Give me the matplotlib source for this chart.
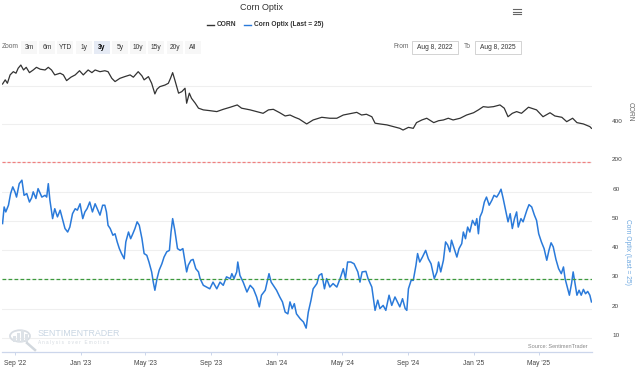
import numpy as np
import pandas as pd
import matplotlib
matplotlib.use('Agg')
import matplotlib.pyplot as plt
from matplotlib.patches import Rectangle, Circle
from matplotlib.lines import Line2D
from matplotlib.transforms import ScaledTranslation

plt.rcParams['font.family'] = ['Liberation Sans', 'DejaVu Sans']

start_date = '2022-08-08'
end_date = '2025-08-08'

# CORN (days after start_date)
corn_days = [1, 6, 10, 15, 21, 26, 30, 35, 40, 45,
             51, 58, 64, 71, 80, 86, 92, 98, 108, 114,
             120, 128, 136, 144, 151, 160, 167, 173, 182, 191,
             197, 204, 210, 219, 228, 238, 244, 253, 260, 264,
             272, 278, 284, 288, 293, 303, 309, 313, 317, 321,
             328, 334, 340, 343, 348, 352, 359, 365, 374, 386,
             399, 411, 424, 437, 445, 461, 473, 485, 495, 504,
             516, 526, 535, 544, 552,
             566, 578, 594, 609, 622, 634, 650, 659, 668, 677,
             687, 693, 702, 715, 727, 739, 745, 755, 764, 770,
             780, 789, 802, 811, 820, 829, 838, 851, 863, 876,
             885, 894, 903, 913, 925, 933, 940, 948, 956, 965,
             978, 993, 1005, 1018, 1027, 1040, 1049, 1060, 1068, 1080,
             1092, 1095]
corn_values = [610, 632, 614, 658, 675, 667, 693, 710, 684, 698,
               670, 684, 698, 688, 684, 698, 684, 658, 667, 658,
               628, 646, 658, 680, 658, 684, 670, 684, 675, 680,
               675, 640, 623, 640, 649, 658, 646, 675, 653, 632,
               649, 614, 558, 583, 596, 605, 614, 640, 670, 632,
               562, 570, 588, 509, 562, 535, 509, 483, 474, 470,
               465, 477, 488, 500, 483, 474, 465, 456, 474, 477,
               459, 442, 447, 435, 426,
               400, 421, 435, 430, 430, 447, 456, 461, 447, 451,
               438, 404, 400, 395, 386, 377, 368, 382, 377, 407,
               421, 430, 407, 417, 421, 430, 421, 430, 447, 459,
               474, 491, 488, 491, 500, 483, 438, 456, 465, 456,
               488, 474, 438, 459, 442, 435, 412, 430, 407, 400,
               386, 377]

# Corn Optix
optix_days = [1, 4, 7, 12, 16, 20, 24, 27, 32, 37,
              41, 46, 51, 55, 58, 63, 67, 74, 80, 83,
              86, 89, 94, 98, 103, 108, 113, 117, 122, 126,
              131, 136, 140, 145, 150, 154, 158, 163, 168, 173,
              177, 182, 187, 191, 194, 197, 201, 206, 210, 214,
              218, 222, 227, 230, 235, 239, 243, 247, 251, 255,
              260, 264, 269, 273, 278, 281, 284, 288, 292, 297,
              301, 306, 311, 314, 317, 321, 326, 331, 336, 340,
              343, 346, 351, 355, 360, 365, 368,
              374, 380, 386, 392, 399, 405, 411, 417, 424, 427,
              431, 436, 438, 442, 448, 455, 461, 467, 473, 478,
              482, 489, 496, 500, 504, 510, 516, 521, 526, 531,
              535, 539, 543, 547, 554, 560, 565, 569, 574, 578,
              585, 589, 594, 599, 603, 609, 615, 622, 628, 634,
              638, 642, 648, 654, 661, 665, 669, 676, 680, 687,
              693, 698, 702, 708, 713, 719, 724, 730, 736,
              739, 744, 749, 752, 755, 760, 764, 769, 772, 776,
              781, 787, 792, 797, 803, 808, 811, 815, 820, 824,
              828, 832, 835, 840, 845, 849, 854, 857, 861, 865,
              869, 874, 879, 882, 885, 888, 892, 896, 900, 905,
              910, 914, 919, 923, 927, 931, 935, 940, 944, 948,
              952, 956, 959, 964, 968, 975, 979, 984, 989, 993,
              997, 1002, 1007, 1012, 1016, 1020, 1024, 1029, 1034, 1039,
              1043, 1046, 1051, 1054, 1058, 1061, 1064, 1068, 1072, 1076,
              1080, 1084, 1088, 1092, 1095]
optix_values = [49.2, 54.9, 53.2, 55.5, 59.5, 61.8, 60.1, 58.3, 62.9, 64.1,
                58.9, 59.5, 56.6, 58, 60.1, 57.8, 61.2, 58.3, 58.9, 58.3,
                62.9, 57.2, 50.9, 54.3, 51.5, 53.8, 50.3, 47.5, 46.3, 48,
                52.6, 54.3, 53.8, 56, 50.9, 53.2, 54.3, 56.6, 53.2, 56,
                54.3, 52.1, 55.5, 55.5, 53.2, 48.6, 47.5, 45.2, 45.7, 42.9,
                40.6, 38.9, 37.1, 42.9, 46.3, 44, 45.7, 47.5, 49.8, 48.6,
                44, 38.9, 38.3, 36, 32.6, 29.1, 26.3, 30.3, 33.2, 35.4,
                37.7, 39.5, 40, 46.3, 50.9, 46.9, 40.6, 40, 40.6, 36,
                32.6, 34.9, 36.6, 36.9, 33.7, 32.6, 30.3,
                28, 27.4, 26.8, 29.1, 26.8, 29.1, 28, 30.9, 30.3, 32,
                30.3, 32.6, 36, 31.4, 29.1, 25.7, 28, 26.8, 24, 20.6,
                24.6, 26.3, 32, 29.1, 28, 26.3, 24, 22.3, 18.8, 18.2,
                22.3, 20, 21.7, 18.2, 16.5, 15.4, 13.3, 18.8, 22.9, 26.8,
                28.6, 31.4, 32, 26.8, 30.3, 27.4, 28.6, 27.4, 30.3, 33.7,
                30.3, 36, 36, 35.4, 32.6, 29.1, 32.6, 32.8, 30.3, 27.4,
                19.4, 22.9, 20, 21.1, 19.4, 24.6, 21.1, 24, 21.7,
                20.6, 23.4, 20, 19.4, 26.8, 29.7, 29.7, 34.9, 38.9, 36,
                37.7, 40, 37.1, 35.4, 30.3, 32.6, 36, 32.6, 36.6, 42.9,
                41.8, 39.5, 43.5, 40.6, 37.7, 40.6, 42.3, 46.3, 44, 48,
                46.3, 50.3, 48.6, 50.9, 45.7, 51.5, 53.2, 56.6, 58.3, 55.5,
                57.2, 58.9, 58.3, 59.5, 61, 57.8, 54.3, 49.8, 52.6, 47.5,
                50.9, 53.2, 48, 50.9, 49.8, 53.8, 55.7, 54.9, 52.1, 50.3,
                45.7, 42.9, 40.6, 36.6, 40, 42.6, 41.2, 36.9, 33.7, 32,
                34.3, 30.3, 26.8, 24.6, 28.6, 32.6, 29.1, 24.6, 26.3, 24.6,
                26.6, 25.1, 25.9, 24.6, 22.3]

optix_level = 30
corn_level = 200

xtick_dates = ['2022-09-01', '2023-01-01', '2023-05-01', '2023-09-01', '2024-01-01',
               '2024-05-01', '2024-09-01', '2025-01-01', '2025-05-01']
xtick_labels = ["Sep '22", "Jan '23", "May '23", "Sep '23", "Jan '24",
                "May '24", "Sep '24", "Jan '25", "May '25"]
corn_ticks = [200, 400, 600]
corn_tick_labels = ['200', '400', '']
optix_ticks = [10, 20, 30, 40, 50, 60]
zoom_buttons = ['3m', '6m', 'YTD', '1y', '3y', '5y', '10y', '15y', '20y', 'All']
selected_button = '3y'

W, H = 644, 370
t0 = pd.Timestamp(start_date)
corn_dates = t0 + pd.to_timedelta(corn_days, unit='D')
optix_dates = t0 + pd.to_timedelta(optix_days, unit='D')


def fx(x):
    return x / W


def fy(y):
    return 1 - y / H


fig = plt.figure(figsize=(W / 100, H / 100), dpi=100)
fig.patch.set_facecolor('white')

ax_bot = fig.add_axes([fx(2), fy(352), 590 / W, 189 / H])
ax_top = fig.add_axes([fx(2), fy(165), 590 / W, 107 / H], sharex=ax_bot)
for ax in (ax_top, ax_bot):
    ax.set_facecolor('none')
    for s in ax.spines.values():
        s.set_visible(False)
    ax.yaxis.tick_right()
    ax.tick_params(axis='y', length=0, pad=14.5, labelsize=4.6, labelcolor='#444444')
    ax.grid(axis='y', color='#efefef', lw=0.8)
    ax.set_axisbelow(True)

# top: CORN
ax_top.plot(corn_dates, corn_values, color='#333333', lw=0.9)
ax_top.axhline(corn_level, color='#f08080', lw=0.9, ls=(0, (2.5, 1.5)))
ax_top.set_ylim(184, 747)
ax_top.set_yticks(corn_ticks)
ax_top.set_yticklabels(corn_tick_labels)
ax_top.tick_params(axis='x', which='both', bottom=False, labelbottom=False)

# bottom: Optix
ax_bot.plot(optix_dates, optix_values, color='#2a7ada', lw=1.1)
ax_bot.axhline(optix_level, color='#3d9a3d', lw=0.9, ls=(0, (3, 1.8)))
ax_bot.set_ylim(5.1, 70)
ax_bot.set_yticks(optix_ticks)
ax_bot.set_xlim(pd.Timestamp(start_date), pd.Timestamp(end_date))
ax_bot.set_xticks(pd.to_datetime(xtick_dates))
ax_bot.set_xticklabels(xtick_labels)
ax_bot.spines['bottom'].set_visible(True)
ax_bot.spines['bottom'].set_color('#ccd6eb')
ax_bot.spines['bottom'].set_linewidth(0.9)
ax_bot.tick_params(axis='x', length=2.5, width=0.7, color='#ccd6eb', pad=3,
                   labelsize=4.8, labelcolor='#444444')

shift = ScaledTranslation(0, 3 / 100, fig.dpi_scale_trans)
for ax in (ax_top, ax_bot):
    for lab in ax.get_yticklabels():
        lab.set_transform(lab.get_transform() + shift)

# axis titles
fig.text(fx(630), fy(112), 'CORN', rotation=270, ha='center', va='center',
         fontsize=4.8, color='#666666')
fig.text(fx(628), fy(252), 'Corn Optix (Last = 25)', rotation=270, ha='center',
         va='center', fontsize=4.8, color='#6aa6e0')

# header
fig.text(fx(262), fy(8), 'Corn Optix', ha='center', va='center', fontsize=6.5, color='#333333')
for yy in (9, 11.5, 14):
    fig.add_artist(Line2D([fx(513), fx(521)], [fy(yy), fy(yy)], color='#666666', lw=0.8))
fig.add_artist(Line2D([fx(207), fx(214)], [fy(24.5), fy(24.5)], color='#333333', lw=1.0))
fig.text(fx(217), fy(24.5), 'CORN', ha='left', va='center', fontsize=4.8,
         fontweight='bold', color='#333333')
fig.add_artist(Line2D([fx(244), fx(251)], [fy(24.5), fy(24.5)], color='#2a7ada', lw=1.0))
fig.text(fx(254), fy(24.5), 'Corn Optix (Last = 25)', ha='left', va='center', fontsize=4.8,
         fontweight='bold', color='#333333')

fig.text(fx(2), fy(47), 'Zoom', ha='left', va='center', fontsize=4.8, color='#666666')
for i, name in enumerate(zoom_buttons):
    x0 = 21 + i * 18.2
    sel = name == selected_button
    fig.add_artist(Rectangle((fx(x0), fy(54)), 16 / W, 13 / H, transform=fig.transFigure,
                             facecolor='#e6ebf5' if sel else '#f7f7f7', edgecolor='none'))
    fig.text(fx(x0 + 8), fy(47.5), name, ha='center', va='center', fontsize=4.8,
             color='#000000' if sel else '#333333', fontweight='bold' if sel else 'normal')

fig.text(fx(393), fy(47), 'From', ha='left', va='center', fontsize=4.8, color='#666666')
fig.add_artist(Rectangle((fx(412), fy(54)), 46 / W, 13 / H, transform=fig.transFigure,
                         facecolor='white', edgecolor='#cccccc', lw=0.6))
fig.text(fx(435), fy(47.5), 'Aug 8, 2022', ha='center', va='center', fontsize=4.8, color='#333333')
fig.text(fx(464), fy(47), 'To', ha='left', va='center', fontsize=4.8, color='#666666')
fig.add_artist(Rectangle((fx(475), fy(54)), 46 / W, 13 / H, transform=fig.transFigure,
                         facecolor='white', edgecolor='#cccccc', lw=0.6))
fig.text(fx(498), fy(47.5), 'Aug 8, 2025', ha='center', va='center', fontsize=4.8, color='#333333')

# watermark
fig.add_artist(Circle((fx(20), fy(336)), 10 / W, transform=fig.transFigure, fill=False,
                      edgecolor='#d8dde3', lw=1.3))
fig.add_artist(Line2D([fx(27), fx(35)], [fy(343), fy(350)], color='#d2d8de', lw=1.8))
for bx, bh in [(13, 6), (17, 9), (21, 12), (25, 8)]:
    fig.add_artist(Rectangle((fx(bx), fy(342)), 3 / W, bh / H, transform=fig.transFigure,
                             facecolor='#dde2e7', edgecolor='none'))
fig.text(fx(38), fy(334), 'SENTIMENTRADER', ha='left', va='center', fontsize=6.4,
         color='#c9d6e3')
fig.text(fx(38), fy(342.5), 'A n a l y s i s   o v e r   E m o t i o n', ha='left',
         va='center', fontsize=3.3, color='#d3d9df')

fig.text(fx(588), fy(346), 'Source: SentimenTrader', ha='right', va='center',
         fontsize=4.0, color='#888888')

fig.savefig('out.png', dpi=100)
